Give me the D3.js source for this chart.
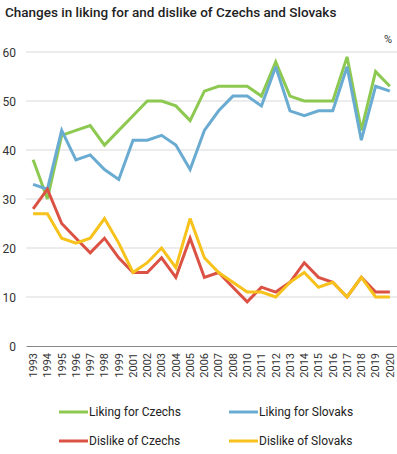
<!DOCTYPE html>
<html>
<head>
<meta charset="utf-8">
<script src="https://cdn.jsdelivr.net/npm/d3@7"></script>
<style>
  html, body { margin: 0; padding: 0; background: #fff; }
  svg { display: block; font-family: Roboto, "Liberation Sans", Arial, sans-serif; }
</style>
</head>
<body>
<svg id="chart" width="397" height="454"></svg>
<script>
const years = ["1993","1994","1995","1996","1997","1998","1999","2001","2002","2003","2004","2005","2006","2007","2008","2010","2011","2012","2013","2014","2015","2016","2017","2018","2019","2020"];
const likingCzechs  = [38,30,43,44,45,41,44,47,50,50,49,46,52,53,53,53,51,58,51,50,50,50,59,44,56,53];
const likingSlovaks = [33,32,44,38,39,36,34,42,42,43,41,36,44,48,51,51,49,57,48,47,48,48,57,42,53,52];
const dislikeCzechs = [28,32,25,22,19,22,18,15,15,18,14,22,14,15,12,9,12,11,13,17,14,13,10,14,11,11];
const dislikeSlovaks= [27,27,22,21,22,26,21,15,17,20,16,26,18,15,13,11,11,10,13,15,12,13,10,14,10,10];
const yTicks = [0,10,20,30,40,50,60];
const seriesNames = ["Liking for Czechs","Liking for Slovaks","Dislike of Czechs","Dislike of Slovaks"];
const seriesColors = ["#8dc951","#6aabd2","#db5143","#f6c21b"];

const series = [likingCzechs, likingSlovaks, dislikeCzechs, dislikeSlovaks].map((v,i)=>({name: seriesNames[i], color: seriesColors[i], values: v}));

const svg = d3.select("#chart");
const x = d3.scaleBand().domain(years).range([26, 397]);
const y = d3.scaleLinear().domain([0, 60]).range([346, 52]);
const cx = d => x(d) + x.bandwidth()/2;

// title
svg.append("text").attr("x", 5).attr("y", 17)
  .attr("font-size", 13.5).attr("font-weight", 500).attr("fill", "#222")
  .text("Changes in liking for and dislike of Czechs and Slovaks");

// y axis labels
const yAxis = d3.axisLeft(y).tickValues(yTicks).tickSize(0).tickPadding(0);
const gy = svg.append("g").attr("transform", "translate(16,0)").call(yAxis);
gy.select(".domain").remove();
gy.selectAll("text").attr("font-size", 12).attr("fill", "#333").attr("font-family", "Roboto, sans-serif").attr("dy", "0.35em");

// gridlines
svg.append("g").selectAll("line").data(yTicks.filter(t => t > 0)).join("line")
  .attr("x1", 26).attr("x2", 397).attr("y1", d => y(d)).attr("y2", d => y(d))
  .attr("stroke", "#d9d9d9").attr("stroke-width", 1);

// x axis
const xAxis = d3.axisBottom(x).tickSize(0).tickPadding(0);
const gx = svg.append("g").attr("transform", `translate(0,${y(0)})`).call(xAxis);
gx.select(".domain").attr("stroke", "#888").attr("stroke-width", 1);
gx.selectAll("text")
  .attr("font-size", 11).attr("fill", "#333").attr("font-family", "Roboto, sans-serif")
  .attr("text-anchor", "end")
  .attr("transform", "rotate(-90)")
  .attr("x", -7).attr("y", 0).attr("dy", "0.35em");

// % label
svg.append("text").attr("x", 392).attr("y", 43).attr("text-anchor", "end")
  .attr("font-size", 11).attr("fill", "#333").text("%");

// lines
const line = d3.line().x((d,i) => cx(years[i])).y(d => y(d));
svg.append("g").selectAll("path").data(series).join("path")
  .attr("d", d => line(d.values))
  .attr("fill", "none").attr("stroke", d => d.color).attr("stroke-width", 3)
  .attr("stroke-linejoin", "miter").attr("stroke-miterlimit", 3);

// legend
const legPos = [[59,412],[229,412],[59,441],[229,441]];
const leg = svg.append("g").selectAll("g").data(series).join("g")
  .attr("transform", (d,i) => `translate(${legPos[i][0]},${legPos[i][1]})`);
leg.append("line").attr("x1", 0).attr("x2", 29).attr("y1", 0).attr("y2", 0)
  .attr("stroke", d => d.color).attr("stroke-width", 3);
leg.append("text").attr("x", 30).attr("y", 0).attr("dy", "0.35em")
  .attr("font-size", 12).attr("fill", "#222").text(d => d.name);
</script>
</body>
</html>
